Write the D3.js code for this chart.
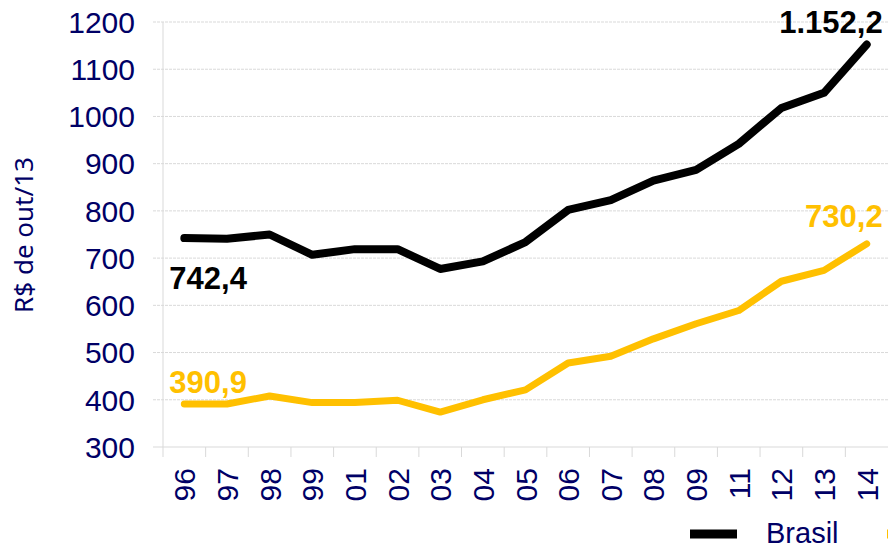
<!DOCTYPE html>
<html>
<head>
<meta charset="utf-8">
<script src="https://cdn.jsdelivr.net/npm/d3@7"></script>
<style>
  body { margin: 0; background: #fff; overflow: hidden; }
  svg { display: block; }
</style>
</head>
<body>
<div id="chart"></div>
<script>
// dados (R$ de out/13)
const anos = ["96", "97", "98", "99", "01", "02", "03", "04", "05", "06", "07", "08", "09", "11", "12", "13", "14"];
const brasil = [742.4, 741, 750, 707, 719, 719, 677, 693, 734, 802, 823, 864, 887, 942, 1018, 1050, 1152.2];
const segunda = [390.9, 391, 408, 394, 394, 399, 374, 400, 421, 478, 492, 529, 561, 589, 651, 674, 730.2];
const yTicks = [300, 400, 500, 600, 700, 800, 900, 1000, 1100, 1200];
const legenda = ["Brasil"];

const w = 888;
const h = 546;
const navy = "#000066";
const amarelo = "#FFC000";

const br = d3.formatLocale({ decimal: ",", thousands: ".", grouping: [3], currency: ["R$", ""] });
const fmt = br.format(",.1f");

const svg = d3.select("#chart")
              .append("svg")
              .attr("width", w)
              .attr("height", h)
              .style("font-family", "'Liberation Sans', Arial, sans-serif");

const x = d3.scaleBand()
            .domain(anos)
            .range([163, 888])
            .padding(0);

const y = d3.scaleLinear()
            .domain([300, 1200])
            .range([447, 22]);

const cx = d => x(d) + x.bandwidth() / 2;

// grade horizontal
svg.append("g")
   .selectAll("line")
   .data(yTicks)
   .enter()
   .append("line")
   .attr("x1", 153)
   .attr("x2", w)
   .attr("y1", d => y(d))
   .attr("y2", d => y(d))
   .attr("stroke", "#d9d9d9")
   .attr("stroke-width", 1)
   .attr("stroke-dasharray", d => d === 300 ? null : "3,1")

// eixo vertical
svg.append("line")
   .attr("x1", 163).attr("x2", 163)
   .attr("y1", y(1200)).attr("y2", 457)
   .attr("stroke", "#d9d9d9")
   .attr("stroke-width", 1)

// marcas do eixo x (entre categorias)
svg.append("g")
   .selectAll("line")
   .data(anos.slice(1))
   .enter()
   .append("line")
   .attr("x1", d => x(d))
   .attr("x2", d => x(d))
   .attr("y1", y(300))
   .attr("y2", 457)
   .attr("stroke", "#d9d9d9")
   .attr("stroke-width", 1)

// rotulos do eixo y
svg.append("g")
   .selectAll("text")
   .data(yTicks)
   .enter()
   .append("text")
   .text(d => d)
   .attr("x", 135)
   .attr("y", d => y(d))
   .attr("dy", "0.36em")
   .attr("text-anchor", "end")
   .attr("font-size", 30)
   .attr("fill", navy)

// rotulos do eixo x
svg.append("g")
   .selectAll("text")
   .data(anos)
   .enter()
   .append("text")
   .text(d => d)
   .attr("transform", d => `translate(${cx(d) + 11},468) rotate(-90)`)
   .attr("text-anchor", "end")
   .attr("font-size", 30)
   .attr("fill", navy)

// titulo do eixo y
svg.append("text")
   .text("R$ de out/13")
   .attr("transform", "translate(33,235) rotate(-90)")
   .attr("text-anchor", "middle")
   .attr("font-family", "'Noto Sans', 'Open Sans', sans-serif")
   .attr("font-size", 26)
   .attr("fill", navy)

const linha = d3.line()
                .x((d, i) => cx(anos[i]))
                .y(d => y(d))

svg.append("path")
   .datum(segunda)
   .attr("d", linha)
   .attr("fill", "none")
   .attr("stroke", amarelo)
   .attr("stroke-width", 7)
   .attr("stroke-linejoin", "round")
   .attr("stroke-linecap", "round")

svg.append("path")
   .datum(brasil)
   .attr("d", linha)
   .attr("fill", "none")
   .attr("stroke", "#000")
   .attr("stroke-width", 8)
   .attr("stroke-linejoin", "round")
   .attr("stroke-linecap", "round")

// valores inicial e final
const ultimo = anos.length - 1;
const rotulos = [
  { v: brasil[0], i: 0, dx: -15, dy: 51, anchor: "start", cor: "#000" },
  { v: brasil[ultimo], i: ultimo, dx: 16, dy: -12, anchor: "end", cor: "#000" },
  { v: segunda[0], i: 0, dx: -15, dy: -11, anchor: "start", cor: amarelo },
  { v: segunda[ultimo], i: ultimo, dx: 16, dy: -17, anchor: "end", cor: amarelo }
];

svg.append("g")
   .selectAll("text")
   .data(rotulos)
   .enter()
   .append("text")
   .text(d => fmt(d.v))
   .attr("x", d => cx(anos[d.i]) + d.dx)
   .attr("y", d => y(d.v) + d.dy)
   .attr("text-anchor", d => d.anchor)
   .attr("font-size", 31)
   .attr("font-weight", "bold")
   .attr("fill", d => d.cor)

// legenda (na borda inferior, como no original)
svg.append("line")
   .attr("x1", 690).attr("x2", 737)
   .attr("y1", 534).attr("y2", 534)
   .attr("stroke", "#000")
   .attr("stroke-width", 9)

svg.append("text")
   .text(legenda[0])
   .attr("x", 766)
   .attr("y", 543)
   .attr("font-size", 29)
   .attr("fill", navy)

svg.append("line")
   .attr("x1", 887).attr("x2", 934)
   .attr("y1", 534).attr("y2", 534)
   .attr("stroke", amarelo)
   .attr("stroke-width", 9)
</script>
</body>
</html>
